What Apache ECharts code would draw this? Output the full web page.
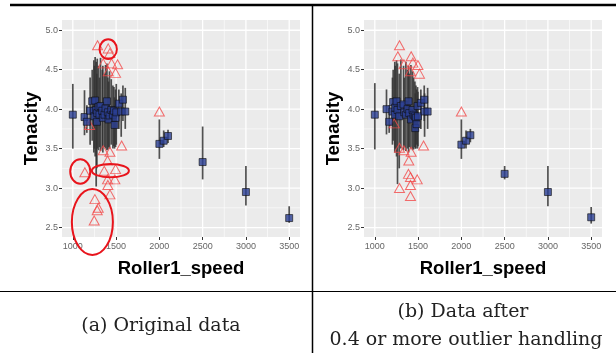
<!DOCTYPE html>
<html>
<head>
<meta charset="utf-8">
<script src="https://cdn.jsdelivr.net/npm/echarts@6/dist/echarts.min.js"></script>
<style>
  html, body { margin: 0; padding: 0; background: #fff; }
  #chart { width: 616px; height: 353px; }
</style>
</head>
<body>
<div id="chart"></div>
<script>
// axis breaks
const xTicks = [1000, 1500, 2000, 2500, 3000, 3500];
const xMinor = [1250, 1750, 2250, 2750, 3250];
const yTicks = [2.5, 3.0, 3.5, 4.0, 4.5, 5.0];
const yMinor = [2.75, 3.25, 3.75, 4.25, 4.75];
const X_MIN = 875, X_MAX = 3625, Y_MIN = 2.38, Y_MAX = 5.13;

// (a) original data: speed, mean tenacity, bar low, bar high
const aSpeed = [1000, 1135, 1162, 1200, 1224, 1243, 1250, 1258, 1270, 1278, 1282, 1297, 1308, 1320, 1340, 1347, 1366, 1378, 1394, 1405, 1413, 1424, 1444, 1463, 1475, 1482, 1494, 1502, 1532, 1559, 1579, 1606, 2000, 2050, 2100, 2500, 3000, 3500];
const aMean  = [3.93, 3.90, 3.84, 3.98, 4.10, 3.98, 3.91, 4.11, 3.99, 3.84, 3.95, 4.03, 3.93, 4.04, 3.98, 3.89, 3.93, 4.01, 4.10, 3.96, 3.87, 3.92, 3.99, 3.93, 3.98, 3.80, 3.89, 3.96, 4.07, 3.97, 4.12, 3.97, 3.56, 3.60, 3.66, 3.33, 2.95, 2.62];
const aLow   = [3.50, 3.67, 3.70, 3.55, 3.60, 3.45, 3.50, 3.40, 3.02, 3.25, 3.50, 3.48, 3.52, 3.47, 3.50, 3.45, 3.52, 3.50, 3.48, 3.49, 3.52, 3.50, 3.55, 3.50, 3.53, 3.50, 3.52, 3.55, 3.75, 3.65, 3.85, 3.75, 3.37, 3.52, 3.57, 3.11, 2.78, 2.56];
const aHigh  = [4.32, 4.24, 4.05, 4.40, 4.50, 4.62, 4.55, 4.66, 4.60, 4.45, 4.64, 4.55, 4.40, 4.65, 4.50, 4.55, 4.45, 4.56, 4.58, 4.40, 4.35, 4.48, 4.38, 4.30, 4.28, 4.15, 4.25, 4.32, 4.25, 4.20, 4.30, 4.27, 3.87, 3.73, 3.74, 3.78, 3.28, 2.77];
const aOutSpeed = [1286, 1409, 1428, 1351, 1448, 1517, 1409, 1494, 1194, 2000, 1564, 1351, 1429, 1401, 1139, 1363, 1494, 1401, 1486, 1405, 1429, 1255, 1294, 1282, 1247];
const aOutValue = [4.81, 4.77, 4.71, 4.58, 4.58, 4.57, 4.48, 4.46, 3.80, 3.97, 3.54, 3.48, 3.46, 3.35, 3.20, 3.22, 3.24, 3.11, 3.11, 3.04, 2.92, 2.86, 2.75, 2.72, 2.59];
// hand-drawn red rings on (a): centre speed, centre tenacity, half width, half height
const ringSpeed = [1409, 1086, 1434, 1226];
const ringValue = [4.76, 3.21, 3.22, 2.57];
const ringHalfW = [100, 116, 214, 237];
const ringHalfH = [0.125, 0.154, 0.084, 0.418];

// (b) after outlier handling
const bSpeed = [1000, 1135, 1166, 1204, 1212, 1231, 1235, 1251, 1262, 1282, 1301, 1332, 1340, 1359, 1378, 1390, 1397, 1417, 1436, 1448, 1463, 1467, 1475, 1482, 1494, 1498, 1532, 1571, 1575, 1610, 2000, 2054, 2104, 2500, 3000, 3500];
const bMean  = [3.93, 4.00, 3.84, 3.97, 4.09, 3.93, 4.02, 4.10, 3.99, 3.91, 4.04, 4.06, 3.96, 3.93, 4.00, 4.10, 3.95, 3.87, 3.99, 3.93, 3.91, 3.76, 3.89, 3.81, 4.04, 3.91, 4.08, 4.12, 3.97, 3.97, 3.55, 3.60, 3.67, 3.18, 2.95, 2.63];
const bLow   = [3.49, 3.68, 3.70, 3.55, 3.60, 3.45, 3.50, 3.40, 3.05, 3.25, 3.50, 3.48, 3.52, 3.47, 3.50, 3.45, 3.52, 3.50, 3.48, 3.49, 3.52, 3.50, 3.50, 3.55, 3.50, 3.53, 3.75, 3.85, 3.65, 3.75, 3.37, 3.50, 3.58, 3.11, 2.77, 2.55];
const bHigh  = [4.33, 4.25, 4.05, 4.40, 4.50, 4.60, 4.55, 4.62, 4.58, 4.45, 4.63, 4.55, 4.40, 4.60, 4.50, 4.55, 4.45, 4.56, 4.48, 4.40, 4.35, 4.20, 4.30, 4.25, 4.28, 4.22, 4.25, 4.30, 4.20, 4.27, 3.87, 3.73, 3.75, 3.28, 3.28, 2.76];
const bOutSpeed = [1285, 1266, 1420, 1336, 1440, 1498, 1412, 1516, 1224, 2000, 1285, 1336, 1420, 1563, 1393, 1389, 1412, 1490, 1412, 1285, 1412];
const bOutValue = [4.81, 4.67, 4.67, 4.57, 4.59, 4.56, 4.48, 4.45, 3.82, 3.97, 3.51, 3.48, 3.46, 3.54, 3.35, 3.18, 3.14, 3.11, 3.04, 3.00, 2.90];

const chart = echarts.init(document.getElementById('chart'));

function zip() {
  const cols = Array.from(arguments);
  return cols[0].map((_, i) => cols.map(c => c[i]));
}

function xAxisFor(idx) {
  return {
    type: 'value', gridIndex: idx, min: X_MIN, max: X_MAX,
    name: 'Roller1_speed', nameLocation: 'middle', nameGap: 22,
    nameTextStyle: { fontFamily: 'Liberation Sans', fontWeight: 'bold', fontSize: 18.5, color: '#000', verticalAlign: 'top' },
    axisLine: { show: false },
    axisTick: { show: true, length: 3, lineStyle: { color: '#333', width: 1 }, customValues: xTicks },
    axisLabel: { customValues: xTicks, margin: 5, fontSize: 9, color: '#666', fontFamily: 'Liberation Sans',
                 formatter: v => String(v) },
    splitLine: { show: false }
  };
}
function yAxisFor(idx) {
  return {
    type: 'value', gridIndex: idx, min: Y_MIN, max: Y_MAX,
    name: 'Tenacity', nameLocation: 'middle', nameGap: 19,
    nameTextStyle: { fontFamily: 'Liberation Sans', fontWeight: 'bold', fontSize: 18.5, color: '#000' },
    axisLine: { show: false },
    axisTick: { show: true, length: 3, lineStyle: { color: '#333', width: 1 }, customValues: yTicks },
    axisLabel: { customValues: yTicks, margin: 4, fontSize: 9, color: '#666', fontFamily: 'Liberation Sans',
                 formatter: v => v.toFixed(1) },
    splitLine: { show: false }
  };
}

function gridLines(idx, vals, vertical, width) {
  return {
    type: 'custom', xAxisIndex: idx, yAxisIndex: idx, z: 1, silent: true,
    data: vals.map(v => [v]),
    renderItem: (params, api) => {
      const v = api.value(0);
      const p1 = vertical ? api.coord([v, Y_MIN]) : api.coord([X_MIN, v]);
      const p2 = vertical ? api.coord([v, Y_MAX]) : api.coord([X_MAX, v]);
      return { type: 'line', shape: { x1: p1[0], y1: p1[1], x2: p2[0], y2: p2[1] },
               style: { stroke: '#fff', lineWidth: width } };
    }
  };
}

function errorBars(idx, speed, low, high) {
  return {
    type: 'custom', xAxisIndex: idx, yAxisIndex: idx, z: 2, silent: true,
    data: zip(speed, low, high),
    encode: { x: 0, y: [1, 2] },
    renderItem: (params, api) => {
      const top = api.coord([api.value(0), api.value(2)]);
      const bot = api.coord([api.value(0), api.value(1)]);
      return { type: 'line', shape: { x1: top[0], y1: top[1], x2: bot[0], y2: bot[1] },
               style: { stroke: '#333', lineWidth: 1.7, opacity: 0.85 } };
    }
  };
}

function outliers(idx, speed, value) {
  return {
    type: 'scatter', xAxisIndex: idx, yAxisIndex: idx, z: 3, silent: true,
    symbol: 'triangle', symbolSize: [10, 9],
    itemStyle: { color: 'rgba(0,0,0,0)', borderColor: '#f24a4a', borderWidth: 1 },
    data: zip(speed, value)
  };
}

function means(idx, speed, mean) {
  return {
    type: 'scatter', xAxisIndex: idx, yAxisIndex: idx, z: 4, silent: true,
    symbol: 'rect', symbolSize: 7,
    itemStyle: { color: '#2a3f94', borderColor: '#111', borderWidth: 0.8 },
    data: zip(speed, mean)
  };
}

const rings = {
  type: 'custom', xAxisIndex: 0, yAxisIndex: 0, z: 5, silent: true, clip: false,
  data: zip(ringSpeed, ringValue, ringHalfW, ringHalfH),
  renderItem: (params, api) => {
    const c = api.coord([api.value(0), api.value(1)]);
    const s = api.size([api.value(2), api.value(3)]);
    return { type: 'ellipse', shape: { cx: c[0], cy: c[1], rx: s[0], ry: s[1] },
             style: { fill: 'none', stroke: '#e8141c', lineWidth: 2 } };
  }
};

const capFont = { fontFamily: 'DejaVu Serif', fontSize: 19, fill: '#222' };

const option = {
  animation: false,
  backgroundColor: '#fff',
  grid: [
    { left: 62, top: 20, width: 238, height: 217, show: true, backgroundColor: '#ebebeb', borderWidth: 0 },
    { left: 364, top: 20, width: 238, height: 217, show: true, backgroundColor: '#ebebeb', borderWidth: 0 }
  ],
  xAxis: [xAxisFor(0), xAxisFor(1)],
  yAxis: [yAxisFor(0), yAxisFor(1)],
  series: [
    gridLines(0, xMinor, true, 0.6), gridLines(0, yMinor, false, 0.6),
    gridLines(0, xTicks, true, 1.3), gridLines(0, yTicks, false, 1.3),
    gridLines(1, xMinor, true, 0.6), gridLines(1, yMinor, false, 0.6),
    gridLines(1, xTicks, true, 1.3), gridLines(1, yTicks, false, 1.3),
    errorBars(0, aSpeed, aLow, aHigh), outliers(0, aOutSpeed, aOutValue), means(0, aSpeed, aMean),
    errorBars(1, bSpeed, bLow, bHigh), outliers(1, bOutSpeed, bOutValue), means(1, bSpeed, bMean),
    rings
  ],
  graphic: [
    { type: 'line', shape: { x1: 10, y1: 5, x2: 616, y2: 5 }, style: { stroke: '#000', lineWidth: 2.5 } },
    { type: 'line', shape: { x1: 312.5, y1: 5, x2: 312.5, y2: 353 }, style: { stroke: '#000', lineWidth: 1.5 } },
    { type: 'line', shape: { x1: 0, y1: 291.5, x2: 616, y2: 291.5 }, style: { stroke: '#000', lineWidth: 1 } },
    { type: 'text', x: 161, y: 326, style: Object.assign({ text: '(a) Original data', align: 'center', verticalAlign: 'middle' }, capFont) },
    { type: 'text', x: 463, y: 312, style: Object.assign({ text: '(b) Data after', align: 'center', verticalAlign: 'middle' }, capFont) },
    { type: 'text', x: 466, y: 340, style: Object.assign({ text: '0.4 or more outlier handling', align: 'center', verticalAlign: 'middle' }, capFont) }
  ]
};

chart.setOption(option);
</script>
</body>
</html>
